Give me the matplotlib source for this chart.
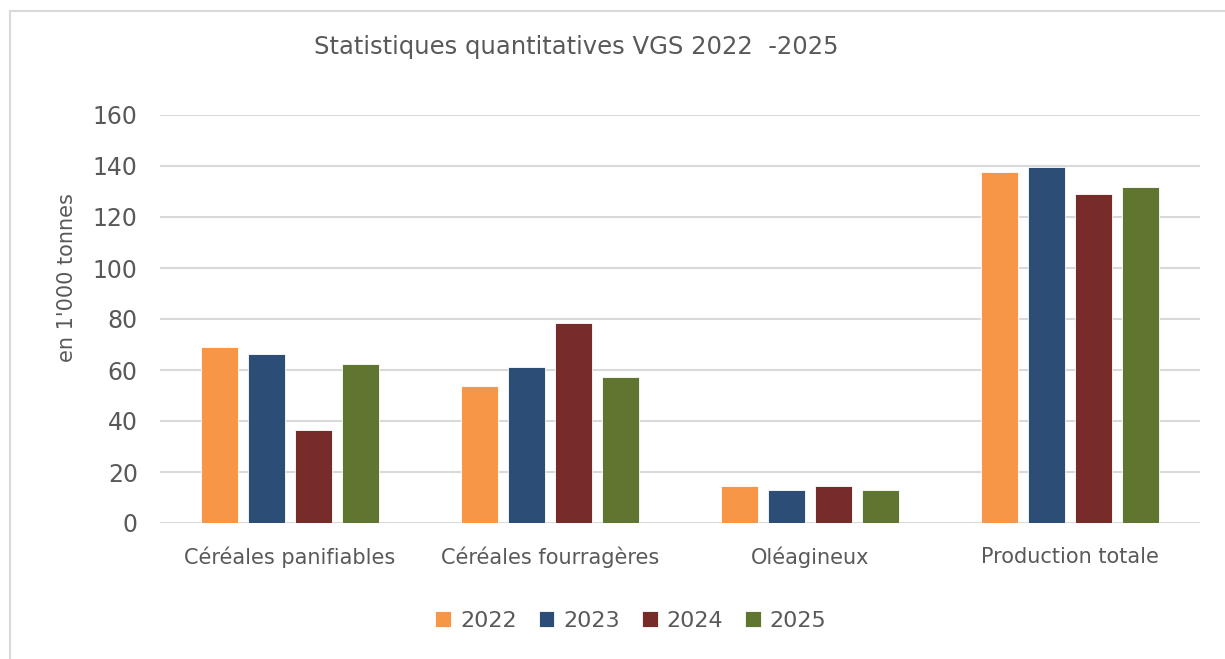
import numpy as np
import matplotlib
matplotlib.use("Agg")
import matplotlib.pyplot as plt
from matplotlib.patches import Rectangle

categories = ["Céréales panifiables", "Céréales fourragères", "Oléagineux", "Production totale"]
years = ["2022", "2023", "2024", "2025"]
v2022 = [69.0, 53.6, 14.6, 137.7]
v2023 = [66.1, 61.2, 12.8, 139.5]
v2024 = [36.6, 78.3, 14.6, 128.9]
v2025 = [62.4, 57.4, 12.8, 131.6]
series = [v2022, v2023, v2024, v2025]
colors = ["#F79646", "#2C4D75", "#772C2A", "#5F7530"]

plt.rcParams['font.family'] = ['DejaVu Sans']
txt = "#595959"

W, H = 1225, 659
fig = plt.figure(figsize=(W / 100, H / 100), dpi=100)

# chart border (only top/left visible in the crop)
fig.patches.append(Rectangle((10 / W, -0.2), 1.2, 1.2 - 11 / H, transform=fig.transFigure,
                             fill=False, edgecolor="#D9D9D9", linewidth=1.5))

ax = fig.add_axes([160 / W, 1 - 523 / H, (1200 - 160) / W, (523 - 115) / H])
x = np.arange(len(categories))
step = 0.181
bw = 0.142
for i, (vals, c, y) in enumerate(zip(series, colors, years)):
    ax.bar(x + (i - 1.5) * step, vals, width=bw, color=c, edgecolor="white",
           linewidth=0.6, label=y, zorder=3)

ax.set_xlim(-0.5, 3.5)
ax.set_ylim(0, 160)
ax.set_yticks(range(0, 161, 20))
ax.yaxis.grid(True, color="#D9D9D9", linewidth=1.5, zorder=0)
for s in ax.spines.values():
    s.set_visible(False)
ax.tick_params(axis="y", length=0, colors=txt, labelsize=17, pad=16)
ax.tick_params(axis="x", length=0, colors=txt, labelsize=15, pad=17)
ax.set_xticks(x)
ax.set_xticklabels(categories)

fig.text(67 / W, 1 - 278 / H, "en 1'000 tonnes", rotation=90, ha="center", va="center",
         color=txt, fontsize=15)

fig.text(576 / W, 1 - 47 / H, "Statistiques quantitatives VGS 2022  -2025",
         ha="center", va="center", color=txt, fontsize=17.5)

ax.legend(loc="center", bbox_to_anchor=(631 / W, 1 - 621 / H), bbox_transform=fig.transFigure,
          ncol=4, frameon=False, fontsize=16, labelcolor=txt, handlelength=0.7,
          handleheight=0.7, handletextpad=0.4, columnspacing=1.0)

fig.savefig("out.png", dpi=100)
